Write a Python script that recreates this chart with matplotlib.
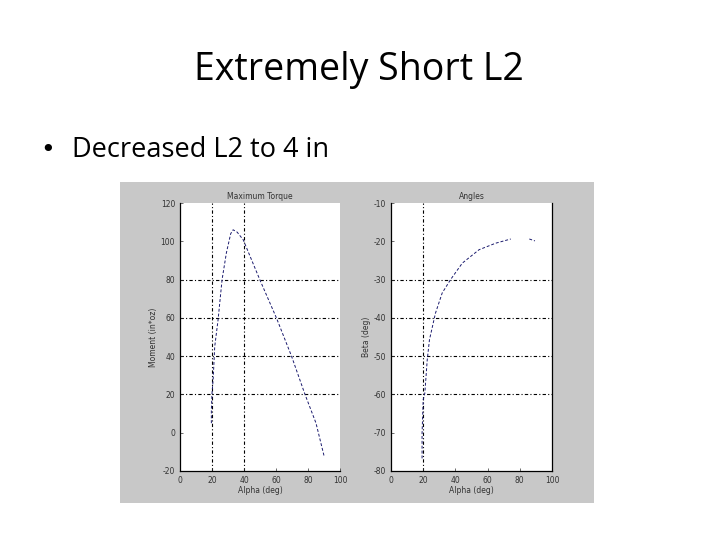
import numpy as np
import matplotlib.pyplot as plt
from matplotlib.patches import Rectangle

plt.rcParams['axes.unicode_minus'] = False

# torque curve
alpha_t = [19.6, 19.6, 20.0, 20.7, 21.7, 23.8, 26.3, 29.0, 31.7, 33.2, 35.7, 39.5, 49.9, 60.3, 69.7, 78.0, 85.0, 90.0]
moment = [5, 12, 20.6, 27.6, 45, 59, 80, 94, 104, 106, 104.8, 100.8, 79.9, 59.9, 40, 20.3, 5, -12]

# beta curve, gap between 75 and 85 as in the picture
alpha_b = [19.3, 19.3, 20.0, 21.0, 22.5, 23.9, 27.6, 31.8, 37.0, 44.3, 54.7, 65.0, 74.4, np.nan, 85.9, 89.4]
beta = [-76.7, -70.2, -61.4, -59.7, -51, -45.7, -38.8, -33.5, -30, -25.7, -22.2, -20.5, -19.4, np.nan, -19.4, -19.9]

W, H = 720, 540
fig = plt.figure(figsize=(7.2, 5.4), dpi=100)
fig.patch.set_facecolor('white')

def box(l, t, r, b):
    return [l / W, 1 - b / H, (r - l) / W, (b - t) / H]

# slide text
fig.text(359 / W, 1 - 70 / H, 'Extremely Short L2', ha='center', va='center',
         fontsize=27, family='Open Sans', color='black')
fig.text(48 / W, 1 - 150 / H, '\u2022', ha='center', va='center', fontsize=18, color='black')
fig.text(72 / W, 1 - 150 / H, 'Decreased L2 to 4 in', ha='left', va='center',
         fontsize=19.5, family='Open Sans', color='black')

# gray matlab figure background
fig.patches.append(Rectangle((120 / W, 1 - 503 / H), 474 / W, 321 / H,
                             transform=fig.transFigure, facecolor='#c8c8c8',
                             edgecolor='none', zorder=-5))

def setup(ax, xlim, ylim, yticks, title, ylabel, vgrid, hgrid, right_spine):
    ax.set_facecolor('white')
    ax.set_xlim(*xlim)
    ax.set_ylim(*ylim)
    ax.set_xticks(range(0, 101, 20))
    ax.set_yticks(yticks)
    ax.tick_params(direction='in', length=2, labelsize=5.5, width=0.5, colors='#333333')
    for v in vgrid:
        ax.axvline(v, color='black', ls=(0, (3, 2, 1, 2)), lw=0.8, zorder=1)
    for h in hgrid:
        ax.axhline(h, color='black', ls=(0, (3, 2, 1, 2)), lw=0.8, zorder=1)
    ax.set_title(title, fontsize=5.5, pad=3, color='#333333')
    ax.set_xlabel('Alpha (deg)', fontsize=5.5, labelpad=1, color='#333333')
    ax.set_ylabel(ylabel, fontsize=5.5, labelpad=2, color='#333333')
    ax.spines['top'].set_visible(False)
    ax.spines['right'].set_visible(right_spine)
    for s in ax.spines.values():
        s.set_linewidth(0.9)

ax1 = fig.add_axes(box(180, 203, 340, 471))
setup(ax1, (0, 100), (-20, 120), range(-20, 121, 20), 'Maximum Torque',
      'Moment (in*oz)', [20, 40], [20, 40, 60, 80], False)
ax1.plot(alpha_t, moment, color='#1a1a6e', ls=(0, (3, 2)), lw=0.7, zorder=3)

ax2 = fig.add_axes(box(391, 203, 552, 471))
setup(ax2, (0, 100), (-80, -10), range(-80, -9, 10), 'Angles',
      'Beta (deg)', [20], [-30, -40, -50, -60], True)
ax2.plot(alpha_b, beta, color='#1a1a6e', ls=(0, (3, 2)), lw=0.7, zorder=3)

fig.savefig('out.png', dpi=100)
